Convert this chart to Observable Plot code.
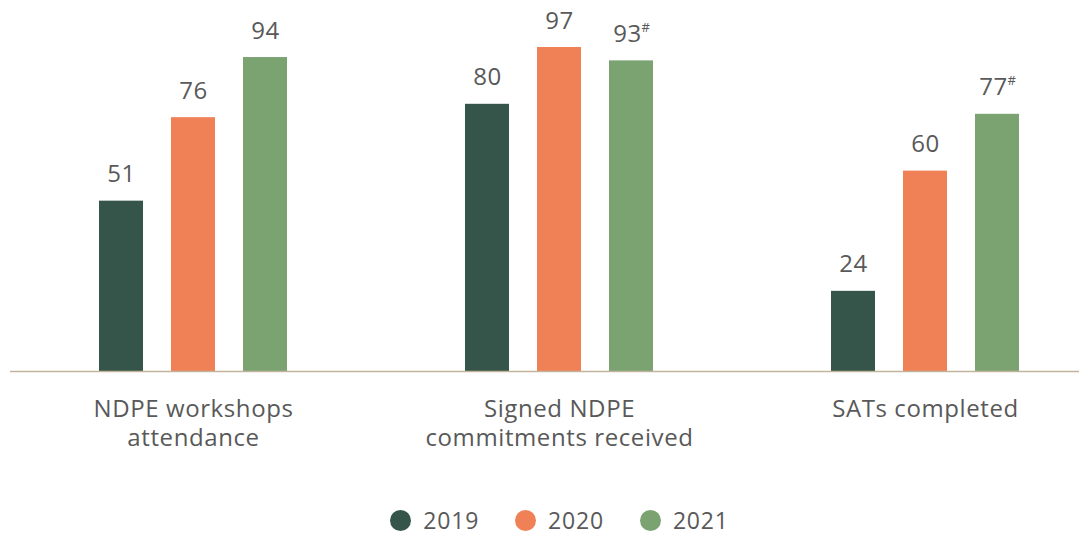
<!DOCTYPE html>
<html>
<head>
<meta charset="utf-8">
<script src="https://cdn.jsdelivr.net/npm/d3@7"></script>
<script src="https://cdn.jsdelivr.net/npm/@observablehq/plot@0.6"></script>
<style>
  html, body { margin: 0; padding: 0; background: #fff; }
  #chart { width: 1079px; height: 498px; }
  .legend { display: flex; justify-content: center; align-items: center; height: 24px; margin-top: 10px; padding-left: 40px; box-sizing: border-box; width: 1079px;
    font-family: "Open Sans", sans-serif; font-size: 23px; line-height: 1; color: #595959; letter-spacing: 0.8px; }
  .legend .item { display: flex; align-items: center; margin: 0 18px; }
  .legend .dot { width: 21px; height: 21px; border-radius: 50%; margin-right: 12px; }
</style>
</head>
<body>
<div id="chart"></div>
<script>
// ---- data ----
const groups = ["NDPE workshops attendance", "Signed NDPE commitments received", "SATs completed"];
const groupLabels = ["NDPE workshops\nattendance", "Signed NDPE\ncommitments received", "SATs completed"];
const years = ["2019", "2020", "2021"];
const colors = ["#35554B", "#F08156", "#7BA372"];
const values2019 = [51, 80, 24];
const values2020 = [76, 97, 60];
const values2021 = [94, 93, 77];
const notes2021 = ["", "#", "#"];

const series = [values2019, values2020, values2021];
const notesByYear = [["", "", ""], ["", "", ""], notes2021];
const rows = [];
groups.forEach((g, gi) => {
  years.forEach((yr, yi) => {
    rows.push({group: g, year: yr, value: series[yi][gi], note: notesByYear[yi][gi]});
  });
});
const plain = rows.filter(d => !d.note);
const noted = rows.filter(d => d.note);

const textColor = "#595959";
const labelLookup = new Map(groups.map((g, i) => [g, groupLabels[i]]));

const chart = Plot.plot({
  width: 1079,
  height: 498,
  marginTop: 37,
  marginBottom: 127,
  marginLeft: 0,
  marginRight: 0,
  style: {fontFamily: "'Open Sans', sans-serif", letterSpacing: "0.6px", color: textColor, background: "#fff", overflow: "visible"},
  fx: {domain: groups, range: [9.25, 1108.75], padding: 0, label: null},
  x: {domain: years, paddingInner: 0.3836, paddingOuter: 1.202, axis: null},
  y: {domain: [0, 100], axis: null},
  color: {domain: years, range: colors},
  marks: [
    Plot.barY(rows, {fx: "group", x: "year", y: "value", fill: "year"}),
    Plot.ruleY([0], {stroke: "#C2B39C", strokeWidth: 1.5}),
    Plot.text(plain, {fx: "group", x: "year", y: "value", text: d => String(d.value), lineAnchor: "bottom", dy: -19, fontSize: 24, fill: textColor}),
    Plot.text(noted, {fx: "group", x: "year", y: "value", text: d => String(d.value), lineAnchor: "bottom", dy: -19, dx: -4, fontSize: 24, fill: textColor}),
    Plot.text(noted, {fx: "group", x: "year", y: "value", text: "note", lineAnchor: "bottom", textAnchor: "start", dy: -29, dx: 10, fontSize: 13, fill: textColor}),
    Plot.axisFx({anchor: "bottom", tickSize: 0, tickPadding: 25, fontSize: 24, lineHeight: 1.21, label: null, tickFormat: d => labelLookup.get(d), fill: textColor})
  ]
});
document.getElementById("chart").appendChild(chart);

const legend = document.createElement("div");
legend.className = "legend";
years.forEach((yr, i) => {
  const item = document.createElement("div");
  item.className = "item";
  const dot = document.createElement("span");
  dot.className = "dot";
  dot.style.background = colors[i];
  const lab = document.createElement("span");
  lab.textContent = yr;
  item.appendChild(dot);
  item.appendChild(lab);
  legend.appendChild(item);
});
document.body.appendChild(legend);
</script>
</body>
</html>
